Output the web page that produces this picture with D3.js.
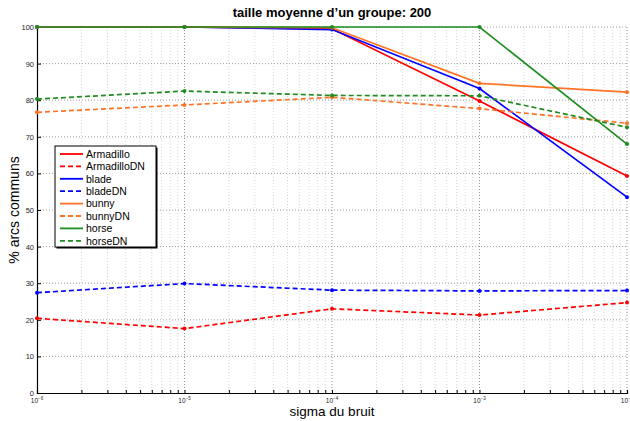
<!DOCTYPE html>
<html>
<head>
<meta charset="utf-8">
<script src="https://cdn.jsdelivr.net/npm/d3@7"></script>
<style>
  body { margin: 0; background: #fff; }
  text { font-family: "Liberation Sans", Arial, sans-serif; }
</style>
</head>
<body>
<svg width="630" height="421"></svg>
<script>
// data
var sigmas = [1e-6, 1e-5, 1e-4, 1e-3, 1e-2];
var armadillo   = [100, 100, 99.5, 79.8, 59.3];
var armadilloDN = [20.4, 17.6, 23.0, 21.3, 24.7];
var blade       = [100, 100, 99.3, 83.2, 53.5];
var bladeDN     = [27.4, 29.9, 28.1, 27.9, 28.0];
var bunny       = [100, 100, 99.8, 84.6, 82.2];
var bunnyDN     = [76.7, 78.7, 80.8, 77.7, 73.7];
var horse       = [100, 100, 100, 100, 68.0];
var horseDN     = [80.3, 82.5, 81.3, 81.2, 72.6];
var yTicks = [0, 10, 20, 30, 40, 50, 60, 70, 80, 90, 100];
var xExponents = [-6, -5, -4, -3, -2];

var series = [
  {name: "Armadillo",   values: armadillo,   color: "#ff0000", dash: false},
  {name: "ArmadilloDN", values: armadilloDN, color: "#ff0000", dash: true},
  {name: "blade",       values: blade,       color: "#0000ff", dash: false},
  {name: "bladeDN",     values: bladeDN,     color: "#0000ff", dash: true},
  {name: "bunny",       values: bunny,       color: "#ff7326", dash: false},
  {name: "bunnyDN",     values: bunnyDN,     color: "#ff7326", dash: true},
  {name: "horse",       values: horse,       color: "#1e8c1e", dash: false},
  {name: "horseDN",     values: horseDN,     color: "#1e8c1e", dash: true}
];

var svg = d3.select("svg");
var plotL = 37, plotR = 627, plotT = 27, plotB = 393;

var x = d3.scaleLog().domain([1e-6, 1e-2]).range([plotL, plotR]);
var y = d3.scaleLinear().domain([0, 100]).range([plotB, plotT]);

// grid lines
var minor = [];
xExponents.slice(0, -1).forEach(function (e) {
  for (var k = 2; k <= 9; k++) minor.push(k * Math.pow(10, e));
});
var grid = svg.append("g");
grid.selectAll(".xminor").data(minor).enter().append("line")
  .attr("x1", d => x(d)).attr("x2", d => x(d))
  .attr("y1", plotT).attr("y2", plotB)
  .attr("stroke", "#c8c8c8").attr("stroke-width", 0.8).attr("stroke-dasharray", "1,2");
grid.selectAll(".xmajor").data(xExponents.slice(1)).enter().append("line")
  .attr("x1", d => x(Math.pow(10, d))).attr("x2", d => x(Math.pow(10, d)))
  .attr("y1", plotT).attr("y2", plotB)
  .attr("stroke", "#777").attr("stroke-width", 0.8).attr("stroke-dasharray", "1,2");
grid.selectAll(".ygrid").data(yTicks.slice(1)).enter().append("line")
  .attr("x1", plotL).attr("x2", plotR)
  .attr("y1", d => y(d)).attr("y2", d => y(d))
  .attr("stroke", "#888").attr("stroke-width", 0.8).attr("stroke-dasharray", "1,2");

// axes
var yAxis = svg.append("g").attr("transform", "translate(" + plotL + ",0)")
  .call(d3.axisLeft(y).tickValues(yTicks).tickSize(-4).tickPadding(3));
yAxis.selectAll("text").attr("font-size", 7.5).attr("fill", "#222");

var xAxis = svg.append("g").attr("transform", "translate(0," + plotB + ")")
  .call(d3.axisBottom(x).tickValues(minor.concat(xExponents.map(e => Math.pow(10, e))))
    .tickSize(-3).tickFormat(""));
svg.selectAll(".domain").attr("stroke", "#000").attr("stroke-width", 1.2);
svg.selectAll(".tick line").attr("stroke", "#000");

var xl = svg.append("g").selectAll("text").data(xExponents).enter().append("text")
  .attr("x", d => x(Math.pow(10, d)))
  .attr("y", plotB + 10)
  .attr("text-anchor", "middle")
  .attr("font-size", 6.5).attr("fill", "#222");
xl.append("tspan").text("10");
xl.append("tspan").attr("dy", -3).attr("font-size", 4.5).text(d => "\u2212" + (-d));

// lines
var line = d3.line().x((d, i) => x(sigmas[i])).y(d => y(d));
var g = svg.append("g");
series.forEach(function (s) {
  g.append("path").datum(s.values)
    .attr("d", line)
    .attr("fill", "none")
    .attr("stroke", s.color)
    .attr("stroke-width", 1.7)
    .attr("stroke-dasharray", s.dash ? "5,3" : null);
  g.selectAll(null).data(s.values).enter().append("circle")
    .attr("cx", (d, i) => x(sigmas[i])).attr("cy", d => y(d))
    .attr("r", 2).attr("fill", s.color);
});

// titles
svg.append("text").attr("x", 332).attr("y", 17).attr("text-anchor", "middle")
  .attr("font-size", 13).attr("font-weight", "bold").text("taille moyenne d\u2019un groupe: 200");
svg.append("text").attr("x", 332).attr("y", 416).attr("text-anchor", "middle")
  .attr("font-size", 13.5).text("sigma du bruit");
svg.append("text").attr("transform", "translate(19,210) rotate(-90)").attr("text-anchor", "middle")
  .attr("font-size", 14).text("% arcs communs");

// legend
var lg = svg.append("g").attr("transform", "translate(55,146)");
lg.append("rect").attr("x", 1.5).attr("y", 1.5).attr("width", 101).attr("height", 101).attr("fill", "#000");
lg.append("rect").attr("width", 101).attr("height", 101).attr("fill", "#fff").attr("stroke", "#000").attr("stroke-width", 1);
var rows = lg.selectAll(".row").data(series).enter().append("g")
  .attr("transform", (d, i) => "translate(0," + (8 + i * 12.4) + ")");
rows.append("line").attr("x1", 5).attr("x2", 28).attr("y1", 0).attr("y2", 0)
  .attr("stroke", d => d.color).attr("stroke-width", 1.8)
  .attr("stroke-dasharray", d => d.dash ? "5,3" : null);
rows.append("text").attr("x", 31).attr("y", 3.8).attr("font-size", 10.5).text(d => d.name);
</script>
</body>
</html>
